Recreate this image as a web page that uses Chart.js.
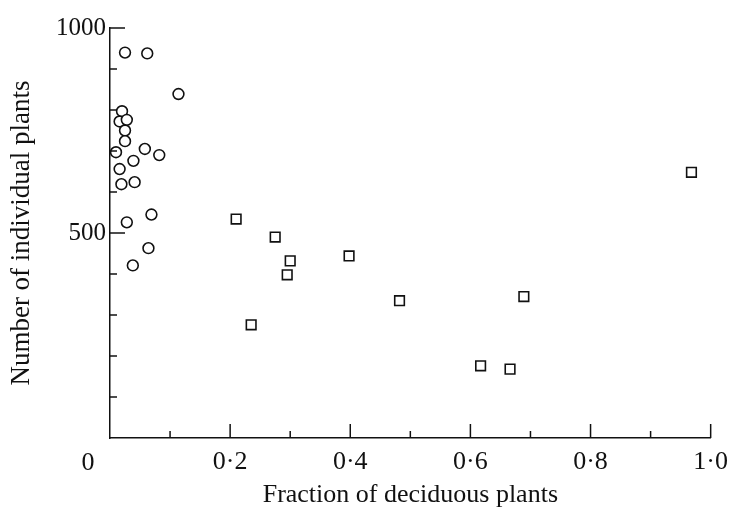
<!DOCTYPE html>
<html>
<head>
<meta charset="utf-8">
<script src="https://cdn.jsdelivr.net/npm/chart.js@4.4.1/dist/chart.umd.min.js"></script>
<style>
  html, body { margin: 0; padding: 0; background: #fff; }
  #wrap { width: 737px; height: 508px; }
</style>
</head>
<body>
<div id="wrap"><canvas id="plot" width="737" height="508"></canvas></div>
<script>
// Evergreen-dominated sites (circles)
const circleX = [0.025, 0.062, 0.114, 0.020, 0.016, 0.028, 0.025, 0.025, 0.010, 0.058,
                 0.082, 0.039, 0.016, 0.019, 0.041, 0.069, 0.028, 0.064, 0.038];
const circleY = [940, 938, 839, 797, 772, 776, 750, 724, 697, 705,
                 690, 676, 656, 619, 624, 545, 526, 463, 421];

// Deciduous-rich sites (squares)
const squareX = [0.210, 0.275, 0.300, 0.295, 0.235, 0.398, 0.482, 0.689, 0.617, 0.666, 0.968];
const squareY = [534, 490, 432, 398, 276, 444, 335, 345, 176, 168, 648];

const xLabels = { 2: '0·2', 4: '0·4', 6: '0·6', 8: '0·8', 10: '1·0' };
const yLabels = { 500: '500', 1000: '1000' };

const FONT = "'Liberation Serif', 'DejaVu Serif', serif";

function toPoints(xs, ys) {
    return xs.map((x, i) => ({ x: x, y: ys[i] }));
}

// Inward tick marks, longer on the labelled ones, plus the lone origin "0"
const tickMarks = {
    id: 'tickMarks',
    afterDraw(chart) {
        const ctx = chart.ctx;
        const xs = chart.scales.x;
        const ys = chart.scales.y;
        const area = chart.chartArea;
        ctx.save();
        ctx.strokeStyle = '#111';
        ctx.lineWidth = 1.5;
        xs.ticks.forEach(t => {
            const k = Math.round(t.value * 10);
            if (k === 0) return;
            const px = xs.getPixelForValue(t.value);
            const len = (k % 2 === 0) ? 14 : 7;
            ctx.beginPath();
            ctx.moveTo(px, area.bottom);
            ctx.lineTo(px, area.bottom - len);
            ctx.stroke();
        });
        ys.ticks.forEach(t => {
            if (t.value === 0) return;
            const py = ys.getPixelForValue(t.value);
            const len = (t.value % 500 === 0) ? 15 : 7;
            ctx.beginPath();
            ctx.moveTo(area.left, py);
            ctx.lineTo(area.left + len, py);
            ctx.stroke();
        });
        ctx.fillStyle = '#111';
        ctx.font = '26px ' + FONT;
        ctx.textAlign = 'center';
        ctx.textBaseline = 'alphabetic';
        ctx.fillText('0', xs.getPixelForValue(0) - 22, area.bottom + 32);
        ctx.restore();
    }
};

const ctx = document.getElementById('plot').getContext('2d');
const chart = new Chart(ctx, {
    type: 'scatter',
    data: {
        datasets: [
            {
                label: 'circles',
                data: toPoints(circleX, circleY),
                pointStyle: 'circle',
                pointRadius: 5.4,
                borderColor: '#111',
                backgroundColor: '#fff',
                borderWidth: 1.6
            },
            {
                label: 'squares',
                data: toPoints(squareX, squareY),
                pointStyle: 'rect',
                pointRadius: 6.8,
                borderColor: '#111',
                backgroundColor: '#fff',
                borderWidth: 1.6
            }
        ]
    },
    options: {
        responsive: false,
        animation: false,
        events: [],
        layout: { padding: { left: 0, top: 28, right: 18, bottom: 0 } },
        plugins: {
            legend: { display: false },
            tooltip: { enabled: false }
        },
        scales: {
            x: {
                type: 'linear',
                min: 0,
                max: 1,
                afterFit: s => { s.height = 70; },
                border: { display: true, color: '#111', width: 1.5 },
                grid: { display: false, drawTicks: false },
                ticks: {
                    stepSize: 0.1,
                    autoSkip: false,
                    maxRotation: 0,
                    padding: 9,
                    color: '#111',
                    font: { family: FONT, size: 26 },
                    callback: v => xLabels[Math.round(v * 10)] || ''
                },
                title: {
                    display: true,
                    text: 'Fraction of deciduous plants',
                    color: '#111',
                    font: { family: FONT, size: 26 },
                    padding: { top: 0, bottom: -3 }
                }
            },
            y: {
                type: 'linear',
                min: 0,
                max: 1000,
                afterFit: s => { s.width = 110; },
                border: { display: true, color: '#111', width: 1.5 },
                grid: { display: false, drawTicks: false },
                ticks: {
                    stepSize: 100,
                    autoSkip: false,
                    padding: 4,
                    color: '#111',
                    font: { family: FONT, size: 25 },
                    callback: v => yLabels[v] || ''
                },
                title: {
                    display: true,
                    text: 'Number of individual plants',
                    color: '#111',
                    font: { family: FONT, size: 27 },
                    padding: { top: 6, bottom: 0 }
                }
            }
        }
    },
    plugins: [tickMarks]
});
</script>
</body>
</html>
